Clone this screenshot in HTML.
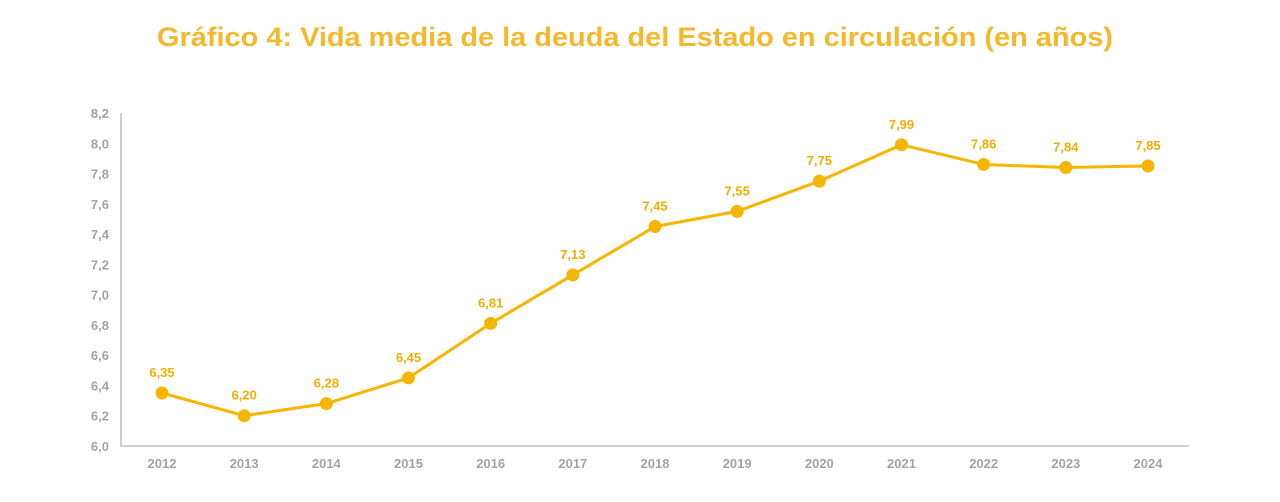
<!DOCTYPE html>
<html><head><meta charset="utf-8"><style>
html,body{margin:0;padding:0;background:#fff;}
svg{display:block;font-family:"Liberation Sans",Arial,sans-serif;}
</style></head><body>
<svg id="chart" width="1280" height="502" viewBox="0 0 1280 502">
<text x="635" y="46" text-anchor="middle" font-size="27" font-weight="bold" fill="#F4B82C" textLength="956" lengthAdjust="spacingAndGlyphs">Gráfico 4: Vida media de la deuda del Estado en circulación (en años)</text>
<g id="axes"></g>
<g id="series"></g>
</svg>
<script>
const years = ['2012','2013','2014','2015','2016','2017','2018','2019','2020','2021','2022','2023','2024'];
const values = [6.35,6.20,6.28,6.45,6.81,7.13,7.45,7.55,7.75,7.99,7.86,7.84,7.85];
const valueLabels = ['6,35','6,20','6,28','6,45','6,81','7,13','7,45','7,55','7,75','7,99','7,86','7,84','7,85'];
const yTicks = [6.0,6.2,6.4,6.6,6.8,7.0,7.2,7.4,7.6,7.8,8.0,8.2];
const yTickLabels = ['6,0','6,2','6,4','6,6','6,8','7,0','7,2','7,4','7,6','7,8','8,0','8,2'];

const NS='http://www.w3.org/2000/svg';
const yMin=6.0,yMax=8.2,yTop=113,yBot=446;
const xFirst=162,xLast=1148;
const y=v=>yBot-(v-yMin)/(yMax-yMin)*(yBot-yTop);
const x=i=>xFirst+i*(xLast-xFirst)/(years.length-1);
function mk(tag,attrs,parent){const e=document.createElementNS(NS,tag);for(const k in attrs)e.setAttribute(k,attrs[k]);parent.appendChild(e);return e;}
const axes=document.getElementById('axes'),series=document.getElementById('series');

const ya=mk('line',{x1:121,y1:yTop,x2:121,y2:yBot,stroke:'#cfcfcf','stroke-width':2},axes);


const xa=mk('line',{x1:120,y1:yBot,x2:1189,y2:yBot,stroke:'#cfcfcf','stroke-width':2},axes);



yTicks.forEach((t,i)=>{
  const e=mk('text',{x:109,y:y(t)+5,'text-anchor':'end','font-size':13,'font-weight':'bold',fill:'#a3a3a3'},axes);
  e.textContent=yTickLabels[i];
  
  
});
years.forEach((yr,i)=>{
  const e=mk('text',{x:x(i),y:468,'text-anchor':'middle','font-size':13,'font-weight':'bold',fill:'#a3a3a3'},axes);
  e.textContent=yr;
  
  
});

const pts=values.map((v,i)=>x(i)+','+y(v)).join(' ');
const pl=mk('polyline',{points:pts,fill:'none',stroke:'#F6B500','stroke-width':3,'stroke-linejoin':'round'},series);


values.forEach((v,i)=>{
  const c=mk('circle',{cx:x(i),cy:y(v),r:6.5,fill:'#F6B500'},series);
  
  
  const t=mk('text',{x:x(i),y:y(v)-16,'text-anchor':'middle','font-size':13,'font-weight':'bold',fill:'#F2AE00'},series);
  t.textContent=valueLabels[i];
  
  
});
</script>
</body></html>
